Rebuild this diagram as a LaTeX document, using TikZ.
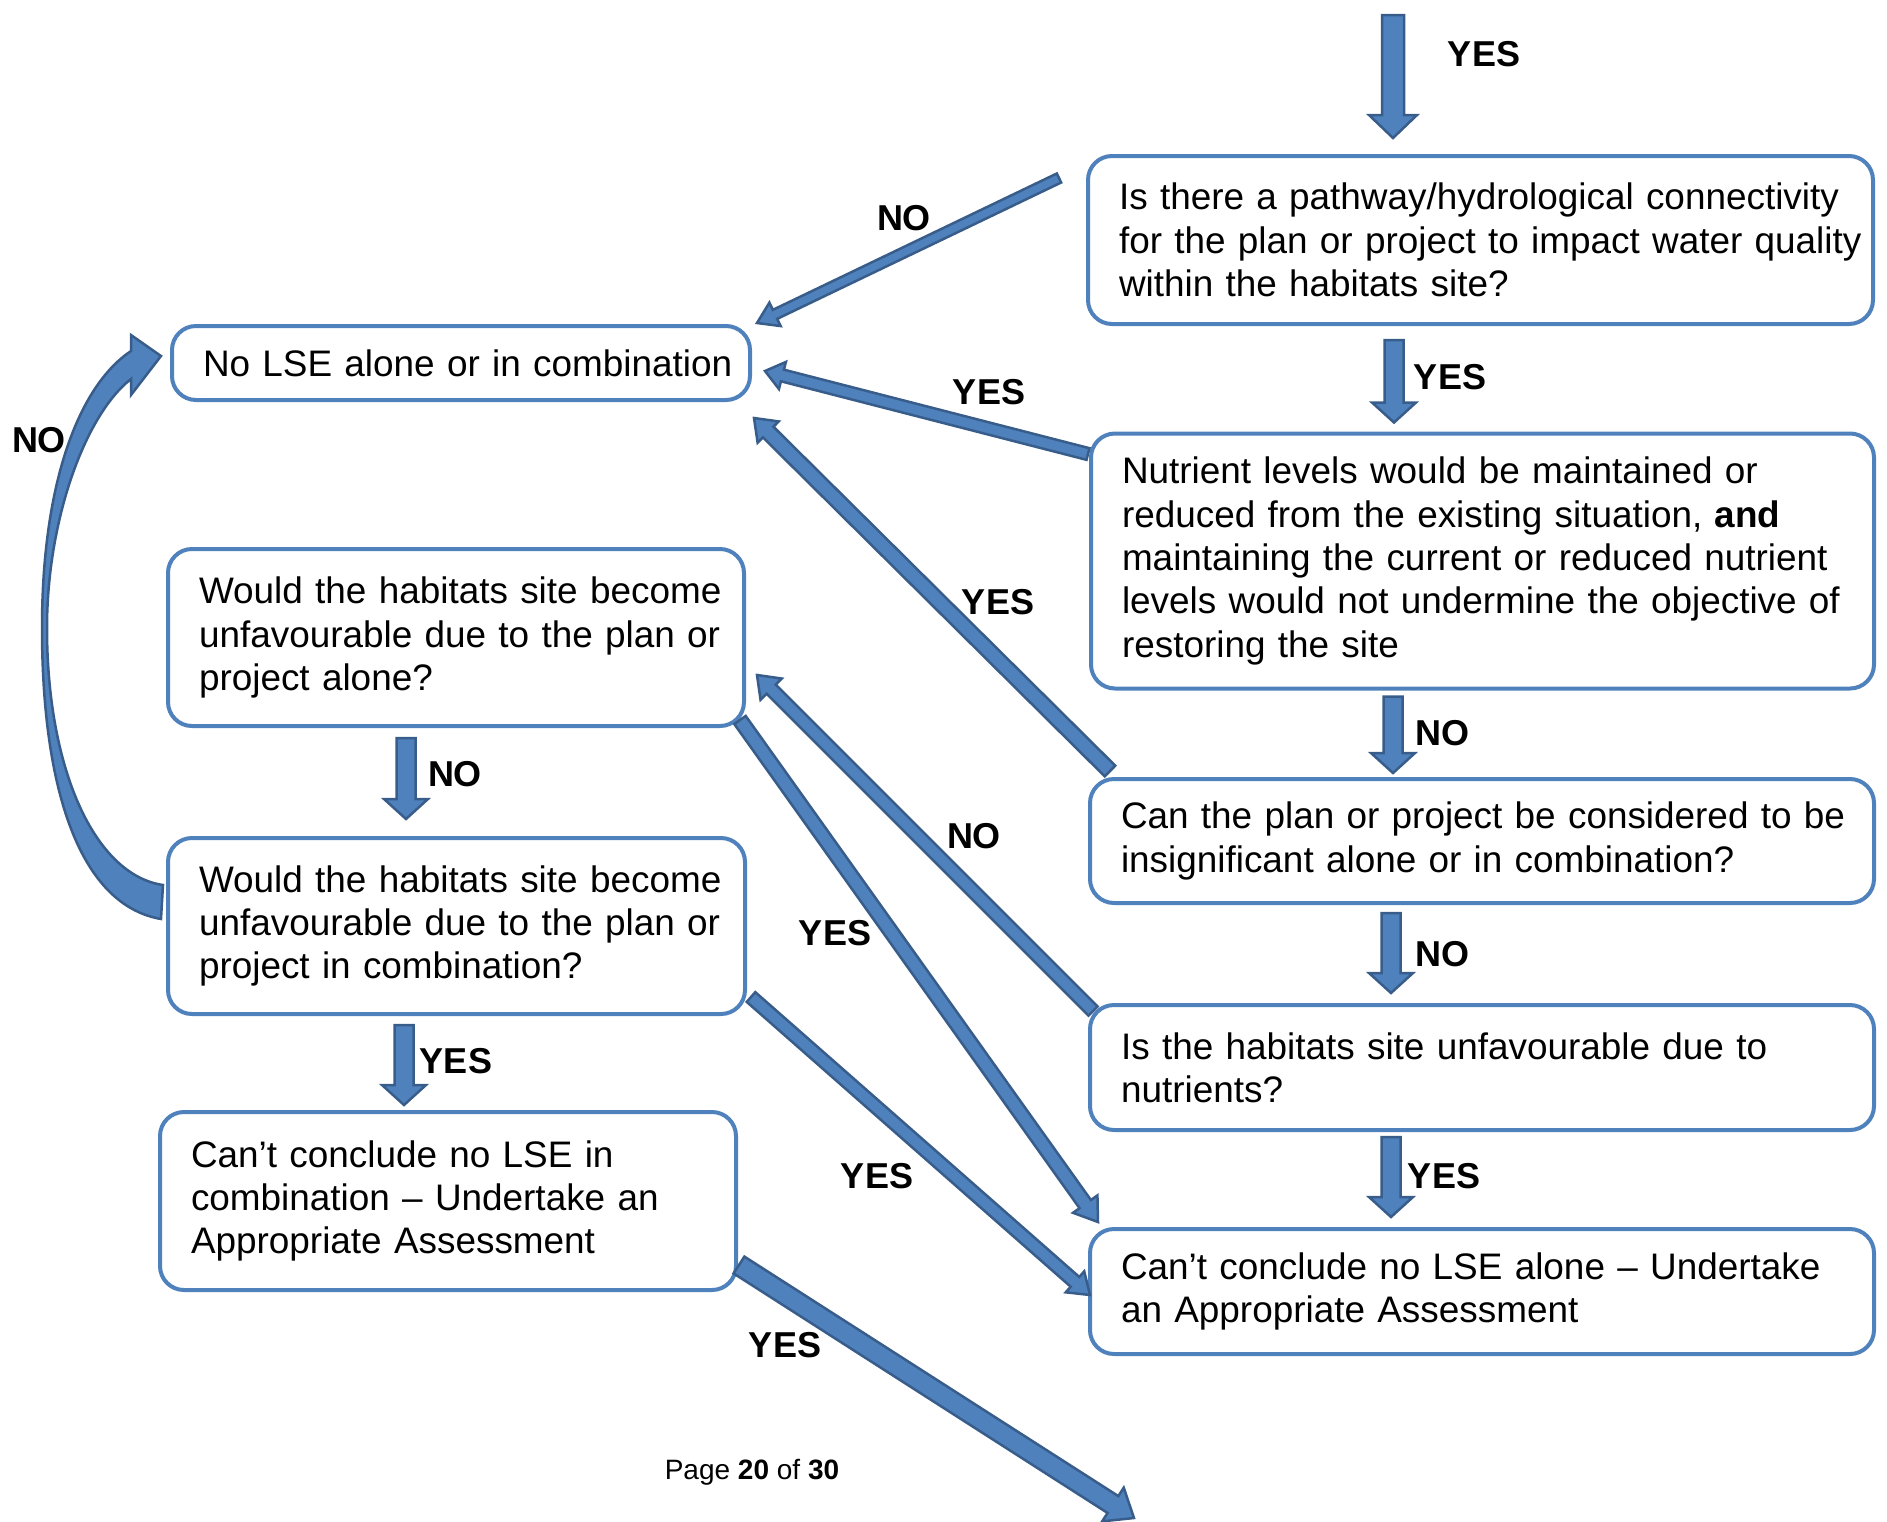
\documentclass[tikz,border=0pt]{standalone}
\usepackage{fontspec}
\setmainfont{Liberation Sans}
\usetikzlibrary{calc}
\definecolor{boxblue}{HTML}{4F81BD}
\definecolor{arrowfill}{HTML}{4F81BD}
\definecolor{arrowline}{HTML}{385D8A}
\hyphenpenalty=10000
\exhyphenpenalty=10000
\newcommand{\boxfont}{\fontsize{18.45}{21.7}\selectfont}
\newcommand{\lblfont}{\bfseries\fontsize{18}{21}\selectfont}
% block arrow: from, to, half shaft, half head, head length
\newcommand{\blockarrow}[5]{%
  \coordinate (ba-s) at (#1);
  \coordinate (ba-e) at (#2);
  \coordinate (ba-h) at ($(ba-e)!#5!(ba-s)$);
  \draw[barrow] ($(ba-s)!#3!90:(ba-e)$) -- ($(ba-h)!#3!-90:(ba-s)$) -- ($(ba-h)!#4!-90:(ba-s)$)
    -- (ba-e) -- ($(ba-h)!#4!90:(ba-s)$) -- ($(ba-h)!#3!90:(ba-s)$) -- ($(ba-s)!#3!-90:(ba-e)$) -- cycle;
}

\begin{document}
\begin{tikzpicture}[x=0.5pt, y=-0.5pt,
  box/.style 2 args={draw=boxblue, fill=white, line width=2pt, rounded corners=12pt, align=left,
    inner xsep=6pt, inner ysep=0pt, font=\boxfont, minimum width=#1, text width=#1-12pt,
    minimum height=#2, execute at begin node={\leftskip=9.5pt}},
  lbl/.style={font=\lblfont, inner sep=0pt},
  barrow/.style={fill=arrowfill, draw=arrowline, line width=1.25pt, line join=miter}]
\useasboundingbox (0,0) rectangle (1887,1522);

\node[box={392.5pt}{84pt}, inner xsep=3pt, text width=386.5pt, execute at begin node={\leftskip=12.5pt}] (b1) at (1480.5,240) {Is there a pathway/hydrological connectivity\\for the plan or project to impact water quality\\within the habitats site?};
\node[box={289pt}{37pt}] (b0) at (461,363) {No LSE alone or in combination};
\node[box={391.5pt}{127.5pt}] (b2) at (1482.5,561) {Nutrient levels would be maintained or\\reduced from the existing situation, \textbf{and}\\maintaining the current or reduced nutrient\\levels would not undermine the objective of\\restoring the site};
\node[box={392pt}{62pt}] (b3) at (1482,841) {Can the plan or project be considered to be\\insignificant alone or in combination?};
\node[box={392pt}{62.5pt}] (b4) at (1482,1067.5) {Is the habitats site unfavourable due to\\nutrients?};
\node[box={392pt}{62.5pt}] (b5) at (1482,1291.5) {Can’t conclude no LSE alone – Undertake\\an Appropriate Assessment};
\node[box={288pt}{88.5pt}] (l1) at (456,637.5) {Would the habitats site become\\unfavourable due to the plan or\\project alone?};
\node[box={288.5pt}{88pt}] (l2) at (456.5,926) {Would the habitats site become\\unfavourable due to the plan or\\project in combination?};
\node[box={288pt}{89pt}] (l3) at (448,1201) {Can’t conclude no LSE in\\combination – Undertake an\\Appropriate Assessment};

\coordinate (top) at (1393,15);
\coordinate (out) at (1134,1518);
\blockarrow{top}{$(b1.north)+(-87.5,-16)$}{5.5pt}{12pt}{11.5pt}
\blockarrow{$(b1.south)+(-86.5,14)$}{$(b2.north)+(-88.5,-9)$}{4.75pt}{11pt}{10pt}
\blockarrow{$(b2.south)+(-89.5,6)$}{$(b3.north)+(-89,-4)$}{4.75pt}{11pt}{10pt}
\blockarrow{$(b3.south)+(-91,8)$}{$(b4.north)+(-91,-10)$}{4.75pt}{11pt}{10pt}
\blockarrow{$(b4.south)+(-91,5)$}{$(b5.north)+(-91,-10)$}{4.75pt}{11pt}{10pt}
\blockarrow{$(l1.south)+(-50,10)$}{$(l2.north)+(-50.5,-17)$}{4.75pt}{11pt}{10pt}
\blockarrow{$(l2.south)+(-52.5,9)$}{$(l3.north)+(-44,-5)$}{4.75pt}{11pt}{10pt}
\blockarrow{$(b1.north west)+(-27,24)$}{$(b0.north east)+(5,-1)$}{2.5pt}{6.5pt}{10pt}
\blockarrow{$(b2.north west)+(-1,22.5)$}{$(b0.east)+(13,8)$}{3pt}{7pt}{9pt}
\blockarrow{$(b3.north west)+(22,-6)$}{$(b0.south east)+(2,16)$}{3.75pt}{7.5pt}{10pt}
\blockarrow{$(b4.north west)+(5,8)$}{$(l1.east)+(11,37.5)$}{3.25pt}{7.5pt}{10pt}
\blockarrow{$(l1.south east)+(-6,-8)$}{$(b5.north west)+(10,-5)$}{3.5pt}{7.5pt}{11pt}
\blockarrow{$(l2.south east)+(4,-19)$}{$(b5.west)+(2,3.5)$}{3.25pt}{7pt}{10pt}
\blockarrow{$(l3.south east)+(1,-27)$}{out}{5pt}{10pt}{12.5pt}

\coordinate (cb) at ($(l2.west)+(-5,-7)$);
\coordinate (ct) at ($(b0.west)+(-9,-7)$);
\draw[barrow] (cb) .. controls (80,905) and (42,790) .. (42,628) .. controls (42,480) and (80,385) .. (131,351)
  -- (131,335) -- (ct) -- (131,395) -- (131,379) .. controls (85,415) and (47,520) .. (47,628)
  .. controls (47,770) and (95,875) .. (163,885) -- cycle;

\node[lbl] (yes0) at (1484,54) {YES};
\node[lbl] (yes1) at (1450,377) {YES};
\node[lbl] (no2) at (1442,733) {NO};
\node[lbl] (no3) at (1442,954) {NO};
\node[lbl] (yes4) at (1444,1176) {YES};
\node[lbl] (no5) at (455,774) {NO};
\node[lbl] (yes6) at (456,1061) {YES};
\node[lbl] (no7) at (904,218) {NO};
\node[lbl] (yes8) at (989,392) {YES};
\node[lbl] (yes9) at (998,602) {YES};
\node[lbl] (no10) at (974,836) {NO};
\node[lbl] (yes11) at (835,933) {YES};
\node[lbl] (yes12) at (877,1176) {YES};
\node[lbl] (yes13) at (785,1345) {YES};
\node[lbl] (no14) at (39,440) {NO};
\node[font=\fontsize{14}{16}\selectfont, inner sep=0pt] (page) at (752,1472) {Page \textbf{20} of \textbf{30}};
\end{tikzpicture}
\end{document}
